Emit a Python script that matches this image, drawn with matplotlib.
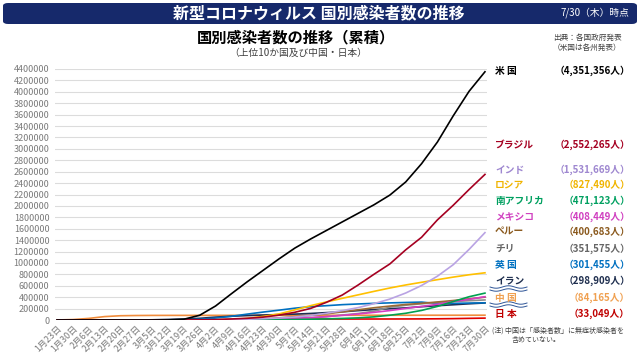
import numpy as np
import matplotlib.pyplot as plt
from matplotlib.patches import FancyBboxPatch

plt.rcParams['font.family'] = ['Noto Sans CJK JP', 'DejaVu Sans']

# weekly dates, 1/23 .. 7/30
dates = ['1月23日', '1月30日', '2月6日', '2月13日', '2月20日', '2月27日', '3月5日',
         '3月12日', '3月19日', '3月26日', '4月2日', '4月9日', '4月16日', '4月23日',
         '4月30日', '5月7日', '5月14日', '5月21日', '5月28日', '6月4日', '6月11日',
         '6月18日', '6月25日', '7月2日', '7月9日', '7月16日', '7月23日', '7月30日']

us = [1, 6, 12, 15, 15, 60, 220, 1600, 13000, 83000, 245000, 460000, 670000, 870000,
      1070000, 1260000, 1420000, 1570000, 1720000, 1870000, 2020000, 2190000, 2420000,
      2740000, 3120000, 3580000, 4010000, 4351356]
brazil = [0, 0, 0, 0, 0, 1, 3, 77, 620, 2900, 7900, 18000, 30000, 50000, 85000, 135000,
          203000, 310000, 438000, 614000, 802000, 983000, 1230000, 1450000, 1755000,
          2012000, 2288000, 2552265]
india = [0, 1, 3, 3, 3, 3, 30, 74, 195, 720, 2500, 6000, 12400, 21800, 34000, 53000,
         81000, 118000, 165000, 217000, 287000, 367000, 473000, 605000, 768000, 970000,
         1238000, 1531669]
russia = [0, 0, 2, 2, 2, 2, 4, 28, 199, 840, 3500, 10100, 27900, 62800, 106500, 177000,
          252000, 317000, 380000, 441000, 502000, 561000, 614000, 661000, 707000, 752000,
          793000, 827490]
s_africa = [0, 0, 0, 0, 0, 0, 1, 17, 150, 927, 1460, 1900, 2600, 3900, 5600, 8200, 12000,
            19100, 27400, 37500, 55400, 83900, 118000, 168000, 238000, 324000, 408000,
            471123]
mexico = [0, 0, 0, 0, 0, 2, 5, 12, 118, 475, 1500, 3400, 6300, 11600, 19200, 29600,
          42600, 59600, 81400, 105700, 133900, 165400, 202900, 238500, 275000, 324000,
          362000, 408449]
peru = [0, 0, 0, 0, 0, 0, 0, 17, 234, 580, 1400, 5300, 12500, 20900, 36900, 58500, 80600,
        108800, 141800, 178900, 214800, 244400, 272400, 292000, 316400, 341600, 371100,
        400683]
chile = [0, 0, 0, 0, 0, 0, 4, 33, 342, 1610, 3400, 5500, 8800, 11800, 16000, 25900, 37000,
         57600, 86900, 113600, 154000, 225000, 259000, 285000, 306000, 323000, 338000,
         351575]
uk = [0, 0, 3, 9, 9, 15, 115, 590, 3300, 11600, 33700, 65000, 103000, 139000, 172000,
      207000, 234000, 251000, 269000, 281000, 292000, 300000, 307000, 314000, 287000,
      292000, 297000, 301455]
iran = [0, 0, 0, 0, 5, 245, 3500, 10000, 18400, 29400, 50500, 66200, 77900, 87000, 94600,
        103100, 114500, 129300, 143800, 164300, 182500, 197600, 212500, 232900, 250500,
        267000, 284000, 298909]
china = [571, 7700, 28000, 59800, 74600, 78500, 80400, 80800, 80900, 81300, 81600, 81900,
         82300, 82800, 82900, 82900, 82900, 82970, 82990, 83020, 83060, 83300, 83450,
         83550, 83580, 83610, 83730, 84165]
japan = [1, 11, 25, 33, 93, 210, 330, 620, 920, 1300, 2600, 5500, 9300, 12000, 14100,
         15500, 16100, 16500, 16700, 17000, 17300, 17700, 18300, 19300, 21200, 24200,
         29000, 33049]

names = ['米 国', 'ブラジル', 'インド', 'ロシア', '南アフリカ', 'メキシコ', 'ペルー', 'チリ',
         '英 国', 'イラン', '中 国', '日 本']
series = [us, brazil, india, russia, s_africa, mexico, peru, chile, uk, iran, china, japan]
line_colors = ['#000000', '#a50021', '#b9a3e3', '#ffc000', '#00a050', '#d63cc4',
               '#9a6a35', '#8c8c8c', '#0070c0', '#1f2f55', '#f08c3c', '#e00000']
text_colors = ['#000000', '#a50021', '#9e87d0', '#f0b400', '#00a060', '#d040c0',
               '#8b5a1e', '#666666', '#0070c0', '#1f2f4f', '#f0a050', '#c00000']
label_y = [71, 145, 170, 185, 201, 217, 232, 249, 265, 281, 298, 314]  # px from top

W, H = 640, 360
fig = plt.figure(figsize=(6.4, 3.6), dpi=100)

# header bar
fig.patches.append(FancyBboxPatch((3 / W, 1 - 24 / H), 634 / W, 21 / H,
                                  boxstyle='round,pad=0,rounding_size=0.008',
                                  transform=fig.transFigure, fc='#16296b', ec='none'))
fig.text(319 / W, 1 - 13 / H, '新型コロナウィルス 国別感染者数の推移', color='white',
         fontsize=11.5, fontweight='bold', ha='center', va='center')
fig.text(595 / W, 1 - 13 / H, '7/30（木）時点', color='white', fontsize=7,
         ha='center', va='center')

fig.text(296 / W, 1 - 37 / H, '国別感染者数の推移（累積）', fontsize=11, fontweight='bold',
         ha='center', va='center')
fig.text(298 / W, 1 - 53 / H, '（上位10か国及び中国・日本）', fontsize=7, color='#404040',
         ha='center', va='center')
fig.text(587 / W, 1 - 38 / H, '出典：各国政府発表', fontsize=5.5, color='#404040',
         ha='center', va='center')
fig.text(587 / W, 1 - 48 / H, '（米国は各州発表）', fontsize=5.5, color='#404040',
         ha='center', va='center')

ax = fig.add_axes([55 / W, 1 - 320 / H, 432 / W, 251 / H])
x = np.arange(len(dates)) * 7
for s, c in zip(series[::-1], line_colors[::-1]):
    ax.plot(x, s, color=c, lw=1.2)

ax.set_ylim(0, 4400000)
ax.set_xlim(-0.9, x[-1] + 0.9)
ax.set_yticks(np.arange(0, 4400001, 200000))
ax.set_yticklabels([str(v) for v in range(0, 4400001, 200000)])
ax.set_xticks(x)
ax.set_xticklabels(dates, rotation=45, ha='right', rotation_mode='anchor')
ax.tick_params(length=0, labelsize=6.5, labelcolor='#7a7a7a', pad=4)
ax.tick_params(axis='x', pad=3)
ax.grid(axis='y', color='#dcdcdc', lw=0.8)
ax.set_axisbelow(True)
for sp in ax.spines.values():
    sp.set_visible(False)

# right-hand labels
for n, s, c, yp in zip(names, series, text_colors, label_y):
    fig.text(495 / W, 1 - yp / H, n, color=c, fontsize=7, fontweight='bold',
             ha='left', va='center')
    fig.text(630 / W, 1 - yp / H, '（{:,}人）'.format(s[-1]), color=c, fontsize=7,
             fontweight='bold', ha='right', va='center')

# wavy marks
wx = np.linspace(490, 527, 60)
for base in (287, 290, 303, 306):
    wy = base + 1.2 * np.sin((wx - 490) / 37 * 2 * np.pi * 1.5)
    fig.add_artist(plt.Line2D(wx / W, 1 - wy / H, color='#2e5597', lw=0.7,
                              transform=fig.transFigure))

fig.text(492 / W, 1 - 331 / H, '(注) 中国は「感染者数」に無症状感染者を', fontsize=5,
         color='#404040', ha='left', va='center')
fig.text(512 / W, 1 - 340 / H, '含めていない。', fontsize=5, color='#404040',
         ha='left', va='center')

fig.savefig('out.png', dpi=100)
